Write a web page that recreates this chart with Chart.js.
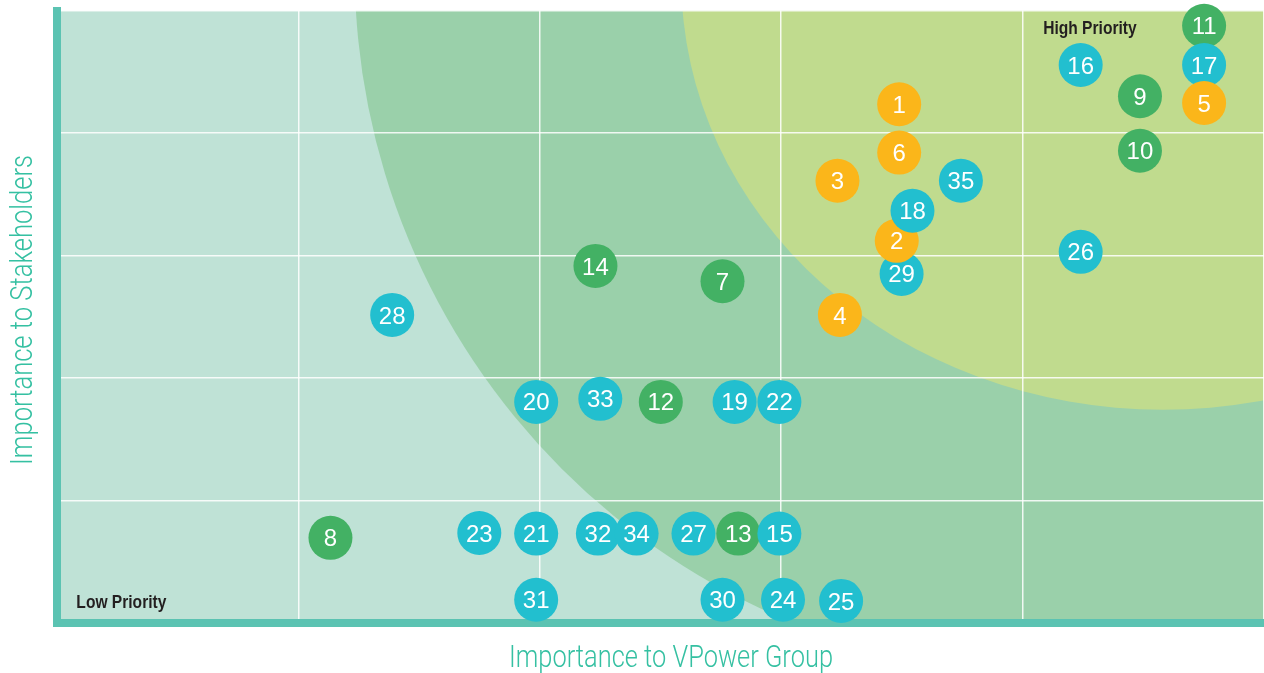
<!DOCTYPE html>
<html>
<head>
<meta charset="utf-8">
<title>Materiality Matrix</title>
<script src="https://cdn.jsdelivr.net/npm/chart.js@4"></script>
<style>
  html, body { margin: 0; padding: 0; background: #fff; }
  #wrap { width: 1264px; height: 673px; }
</style>
</head>
<body>
<div id="wrap"><canvas id="matrixChart" width="1264" height="673"></canvas></div>
<script>
// Issue numbers, listed in drawing order (later ones sit on top of earlier ones)
const issueIds = [1, 3, 4, 6, 7, 8, 9, 10, 11, 12, 14, 16, 17, 5, 19, 20, 21, 22, 23, 24, 25, 26, 27, 13, 15, 28, 29, 2, 18, 30, 31, 32, 33, 34, 35];

// Importance to VPower Group (x) and to stakeholders (y), 0-100
const vpowerScores =      [69.6, 64.5, 64.7, 69.6, 55.0, 22.6, 89.5, 89.5, 94.8, 49.9, 44.5, 84.6, 94.8, 94.8, 56.0, 39.6, 39.6, 59.7, 34.9, 60.0, 64.8, 84.6, 52.6, 56.3, 59.7, 27.7, 69.8, 69.4, 70.7, 55.0, 39.6, 44.7, 44.9, 47.9, 74.7];
const stakeholderScores = [84.7, 72.2, 50.3, 76.8, 55.8, 13.9, 86.0, 77.1, 97.5, 36.1, 58.3, 91.1, 91.1, 84.9, 36.1, 36.1, 14.6, 36.1, 14.7, 3.8, 3.6, 60.6, 14.6, 14.6, 14.6, 50.3, 57.0, 62.4, 67.3, 3.8, 3.8, 14.6, 36.6, 14.6, 72.2];

// Colour group of each issue
const issueGroups = ['yellow', 'yellow', 'yellow', 'yellow', 'green', 'green', 'green', 'green', 'green', 'green', 'green', 'blue', 'blue', 'yellow', 'blue', 'blue', 'blue', 'blue', 'blue', 'blue', 'blue', 'blue', 'blue', 'green', 'blue', 'blue', 'blue', 'yellow', 'blue', 'blue', 'blue', 'blue', 'blue', 'blue', 'blue'];

// Background priority zones (ellipses in data units: centre and radii)
const zoneCentreX = [83.0, 91.4];
const zoneCentreY = [106.8, 105.0];
const zoneRadiusX = [58.4, 39.8];
const zoneRadiusY = [115.4, 70.2];

// Corner captions
const captionText = ['Low Priority', 'High Priority'];
const captionX = [1.6, 81.5];
const captionY = [3.6, 97.2];

const xTitle = 'Importance to VPower Group';
const yTitle = 'Importance to Stakeholders';

const groupColours = { yellow: '#fbb61a', green: '#43b164', blue: '#22bfcf' };
const zoneColours = ['#9ad0aa', '#c0db8e'];
const axisColour = '#5bc3b2';
const titleColour = '#35c0a2';

// draws text squeezed horizontally to mimic a condensed face
function condensedText(ctx, text, x, y, squeeze, rotate) {
  ctx.save();
  ctx.translate(x, y);
  if (rotate) ctx.rotate(-Math.PI / 2);
  ctx.scale(squeeze, 1);
  ctx.fillText(text, 0, 0);
  ctx.restore();
}

const backgroundZones = {
  id: 'backgroundZones',
  beforeDraw(chart) {
    const { ctx, chartArea: a, scales: { x, y } } = chart;
    ctx.save();
    ctx.beginPath();
    ctx.rect(a.left, a.top, a.right - a.left, a.bottom - a.top);
    ctx.clip();
    ctx.fillStyle = '#bfe2d6';
    ctx.fillRect(a.left, a.top, a.right - a.left, a.bottom - a.top);
    zoneCentreX.forEach((cx, i) => {
      const px = x.getPixelForValue(cx);
      const py = y.getPixelForValue(zoneCentreY[i]);
      const rx = x.getPixelForValue(cx + zoneRadiusX[i]) - px;
      const ry = py - y.getPixelForValue(zoneCentreY[i] + zoneRadiusY[i]);
      ctx.fillStyle = zoneColours[i];
      ctx.beginPath();
      ctx.ellipse(px, py, rx, Math.abs(ry), 0, 0, Math.PI * 2);
      ctx.fill();
    });
    ctx.restore();
  },
  afterDraw(chart) {
    const { ctx, chartArea: a } = chart;
    ctx.save();
    // fill the little gap where the two thick axis lines meet
    ctx.fillStyle = axisColour;
    ctx.fillRect(a.left - 4, a.bottom, 4, 4);

    // axis titles
    ctx.fillStyle = titleColour;
    ctx.font = '300 32px Roboto, "Liberation Sans", sans-serif';
    ctx.textAlign = 'center';
    ctx.textBaseline = 'alphabetic';
    const sx = 324 / ctx.measureText(xTitle).width;
    const sy = 310 / ctx.measureText(yTitle).width;
    condensedText(ctx, xTitle, 671, 666.5, sx, false);
    condensedText(ctx, yTitle, 32, 310, sy, true);
    ctx.restore();
  }
};

const issueLabels = {
  id: 'issueLabels',
  afterDatasetsDraw(chart) {
    const { ctx, scales: { x, y } } = chart;
    const meta = chart.getDatasetMeta(0);
    ctx.save();
    ctx.fillStyle = '#ffffff';
    ctx.font = '24px "Liberation Sans", Arial, sans-serif';
    ctx.textAlign = 'center';
    ctx.textBaseline = 'alphabetic';
    meta.data.forEach((pt, i) => {
      ctx.fillText(String(issueIds[i]), pt.x, pt.y + 8.6);
    });

    ctx.fillStyle = '#231f20';
    ctx.font = 'bold 19px "Liberation Sans", Arial, sans-serif';
    ctx.textAlign = 'left';
    captionText.forEach((t, i) => {
      condensedText(ctx, t, x.getPixelForValue(captionX[i]), y.getPixelForValue(captionY[i]) + 6.8, 0.82, false);
    });
    ctx.restore();
  }
};

new Chart(document.getElementById('matrixChart').getContext('2d'), {
  type: 'scatter',
  data: {
    datasets: [{
      label: 'Issues',
      data: issueIds.map((id, i) => ({ x: vpowerScores[i], y: stakeholderScores[i] })),
      backgroundColor: issueGroups.map(g => groupColours[g]),
      borderWidth: 0,
      pointRadius: 22,
      pointHoverRadius: 22,
      clip: false
    }]
  },
  options: {
    responsive: false,
    animation: false,
    layout: { autoPadding: false, padding: { top: 10.5, left: 57, right: 0, bottom: 50 } },
    plugins: {
      legend: { display: false },
      tooltip: { enabled: false }
    },
    scales: {
      x: {
        type: 'linear',
        min: 0,
        max: 99.75,
        ticks: { display: false, stepSize: 20 },
        grid: { color: 'rgba(255,255,255,0.85)', lineWidth: 1.5, drawTicks: false },
        border: { color: axisColour, width: 8 }
      },
      y: {
        type: 'linear',
        min: 0,
        max: 100,
        ticks: { display: false, stepSize: 20 },
        grid: { color: 'rgba(255,255,255,0.85)', lineWidth: 1.5, drawTicks: false },
        border: { color: axisColour, width: 8 }
      }
    }
  },
  plugins: [backgroundZones, issueLabels]
});
</script>
</body>
</html>
